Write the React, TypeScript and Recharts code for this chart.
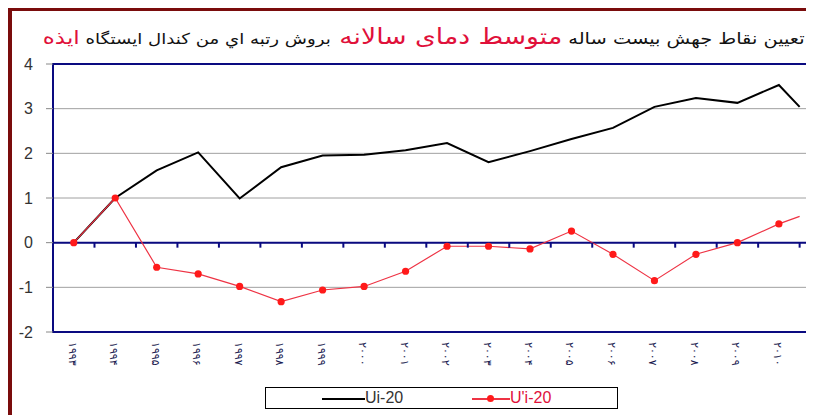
import React from 'react';
import { ComposedChart, Line, Scatter, XAxis, YAxis, CartesianGrid, ReferenceLine, ReferenceArea } from 'recharts';

const years = [1993, 1994, 1995, 1996, 1997, 1998, 1999, 2000, 2001, 2002, 2003, 2004, 2005, 2006, 2007, 2008, 2009, 2010];
const yearLabels = ['۱۹۹۳', '۱۹۹۴', '۱۹۹۵', '۱۹۹۶', '۱۹۹۷', '۱۹۹۸', '۱۹۹۹', '۲۰۰۰', '۲۰۰۱', '۲۰۰۲', '۲۰۰۳', '۲۰۰۴', '۲۰۰۵', '۲۰۰۶', '۲۰۰۷', '۲۰۰۸', '۲۰۰۹', '۲۰۱۰'];
const ui20 = [0, 1.0, 1.62, 2.02, 0.99, 1.69, 1.95, 1.97, 2.07, 2.23, 1.8, 2.05, 2.32, 2.57, 3.04, 3.24, 3.13, 3.53];
const upi20 = [0, 1.0, -0.55, -0.7, -0.98, -1.32, -1.06, -0.98, -0.64, -0.08, -0.08, -0.14, 0.26, -0.26, -0.85, -0.26, 0.0, 0.42];
// trailing end of both lines (no marker)
const endYear = 2010.5;
const endUi = 3.04;
const endUpi = 0.59;
const axisTickYears = [1993.5, 1994.5, 1995.5, 1996.5, 1997.5, 1998.5, 1999.5, 2000.5, 2001.5, 2002.5, 2003.5, 2004.5, 2005.5, 2006.5, 2007.5, 2008.5, 2009.5, 2010.5];
const yTicks = [-2, -1, 0, 1, 2, 3, 4];
const xDomain = [1992.5, 2010.75];

const data = years
  .map((y, i) => ({ year: y, ui: ui20[i], upi: upi20[i], marker: true }))
  .concat([{ year: endYear, ui: endUi, upi: endUpi, marker: false }]);
const tickData = axisTickYears.map((t) => ({ year: t, v: 0 }));

const NAVY = '#0a0a80';
const RED = '#ff1a1a';

const labelFor = (v: number) => {
  const i = years.indexOf(v);
  return i >= 0 ? yearLabels[i] : '';
};

const XTick = (props: any) => {
  const { x, y, payload } = props;
  const tx = x - 5;
  const ty = y + 2;
  return (
    <text
      x={tx}
      y={ty}
      transform={`rotate(90, ${tx}, ${ty})`}
      textAnchor="start"
      direction="ltr"
      style={{ direction: 'ltr', unicodeBidi: 'bidi-override' }}
      fontFamily="DejaVu Sans"
      fontSize={11}
      fill="#1a1a50"
    >
      {labelFor(payload.value)}
    </text>
  );
};

const RedDot = (props: any) => {
  const { cx, cy, payload, index } = props;
  if (!payload || !payload.marker) return <g key={`d${index}`} />;
  return <circle key={`d${index}`} cx={cx} cy={cy} r={3.6} fill={RED} stroke="none" />;
};

const AxisTickMark = (props: any) => {
  const { cx, cy } = props;
  return <line x1={cx} y1={cy} x2={cx} y2={cy + 5} stroke={NAVY} strokeWidth={2} />;
};

export default function App() {
  return (
    <div style={{ position: 'relative', width: 806, height: 407, background: '#fff' }}>
      <div
        style={{
          position: 'absolute',
          left: 0,
          top: 0,
          width: 806,
          height: 407,
          borderLeft: '4px solid #7a0c0c',
          borderTop: '3px solid #7a0c0c',
          boxSizing: 'border-box',
        }}
      />
      <div
        style={{
          position: 'absolute',
          right: 9,
          top: 15,
          direction: 'rtl',
          whiteSpace: 'nowrap',
          fontFamily: 'DejaVu Sans',
          fontSize: 16,
          lineHeight: '28px',
          color: '#111',
          transform: 'scaleX(1.21)',
          transformOrigin: 'right center',
        }}
      >
        <span>تعیین نقاط جهش بیست ساله </span>
        <span style={{ color: '#e0103a', fontSize: 22 }}>متوسط دمای سالانه </span>
        <span style={{ fontSize: 15 }}>بروش رتبه اي من كندال ايستگاه </span>
        <span style={{ color: '#e0103a', fontSize: 19 }}>ايذه</span>
      </div>
      <div style={{ position: 'absolute', left: 0, top: 0 }}>
        <ComposedChart width={806} height={407} data={data} margin={{ top: 56, right: 4, left: 5, bottom: 33 }}>
          <CartesianGrid horizontal vertical={false} stroke="#a0a0a0" />
          <XAxis
            dataKey="year"
            type="number"
            domain={xDomain}
            ticks={years}
            interval={0}
            axisLine={false}
            tickLine={false}
            height={50}
            tick={<XTick />}
            allowDataOverflow
          />
          <YAxis
            domain={[-2, 4]}
            ticks={yTicks}
            width={40}
            axisLine={{ stroke: NAVY, strokeWidth: 2 }}
            tickLine={{ stroke: '#888' }}
            tickSize={7}
            tickMargin={13}
            tick={{ fontFamily: 'Liberation Sans, Arial', fontSize: 16, fill: '#333' }}
            allowDataOverflow
          />
          <ReferenceArea x1={xDomain[0]} x2={xDomain[1]} y1={-2} y2={4} fill="none" stroke={NAVY} strokeWidth={2} ifOverflow="visible" />
          <ReferenceLine y={0} stroke={NAVY} strokeWidth={2} />
          <Scatter data={tickData} dataKey="v" shape={<AxisTickMark />} isAnimationActive={false} />
          <Line dataKey="ui" stroke="#000" strokeWidth={2} dot={false} isAnimationActive={false} />
          <Line dataKey="upi" stroke="#ee3344" strokeWidth={1.2} dot={<RedDot />} activeDot={false} isAnimationActive={false} />
        </ComposedChart>
      </div>
      <div
        style={{
          position: 'absolute',
          left: 257,
          top: 379,
          width: 351,
          height: 20,
          border: '1px solid #000',
          fontFamily: 'Liberation Sans, Arial',
          fontSize: 16,
        }}
      >
        <div style={{ position: 'absolute', left: 56, top: 10, width: 43, height: 2, background: '#000' }} />
        <span style={{ position: 'absolute', left: 99, top: 1, color: '#333' }}>Ui-20</span>
        <div style={{ position: 'absolute', left: 206, top: 10, width: 38, height: 1.5, background: '#ee3344' }} />
        <div style={{ position: 'absolute', left: 221, top: 7, width: 7, height: 7, borderRadius: 4, background: RED }} />
        <span style={{ position: 'absolute', left: 244, top: 1, color: '#e0103a' }}>U'i-20</span>
      </div>
    </div>
  );
}
